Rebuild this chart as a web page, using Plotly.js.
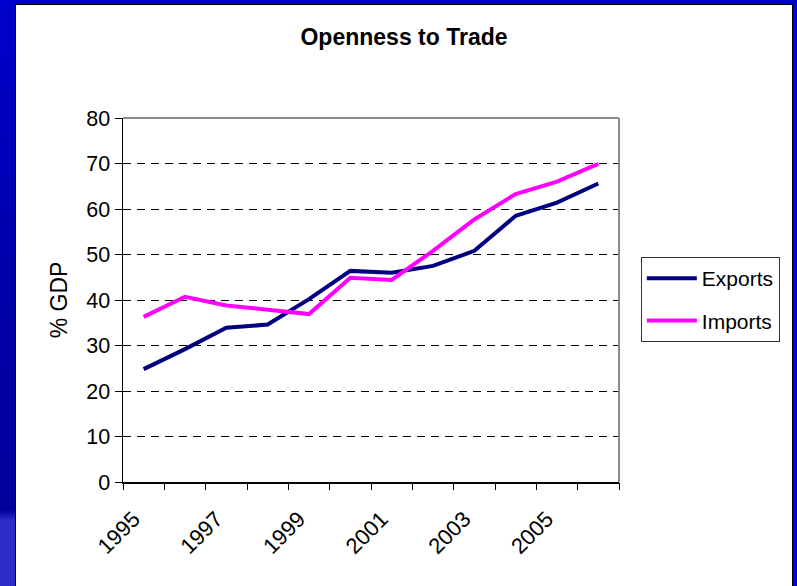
<!DOCTYPE html>
<html>
<head>
<meta charset="utf-8">
<script src="https://cdn.plot.ly/plotly-3.0.1.min.js"></script>
<style>
  html, body { margin: 0; padding: 0; overflow: hidden; width: 797px; height: 586px; }
  body { background: #0000E6; position: relative; }
  #leftband { position: absolute; left: 0; top: 0; width: 16px; height: 586px;
    background: linear-gradient(to bottom, #0000CC 0px, #0000A8 300px, #00009A 510px, #2B2BC8 520px, #2B2BC8 586px); }
  #topband { position: absolute; left: 0; top: 0; width: 797px; height: 5px; background: #0000CC; }
  #chart { position: absolute; left: 15px; top: 4px; width: 776px; height: 600px;
    border: 1px solid #000; background: #fff; }
</style>
</head>
<body>
<div id="leftband"></div>
<div id="topband"></div>
<div id="chart"></div>
<script>
const years = [1995, 1996, 1997, 1998, 1999, 2000, 2001, 2002, 2003, 2004, 2005, 2006];
const exportsPct = [24.8, 29.2, 33.9, 34.6, 40.2, 46.4, 46.0, 47.5, 50.8, 58.5, 61.4, 65.6];
const importsPct = [36.3, 40.7, 38.8, 37.8, 36.9, 44.9, 44.4, 50.8, 57.7, 63.3, 66.0, 69.9];
const labelYears = [1995, 1997, 1999, 2001, 2003, 2005];
const labelText = labelYears.map(String);
const yTicks = [0, 10, 20, 30, 40, 50, 60, 70, 80];

const boundaries = years.map(y => y - 0.5).concat([years[years.length - 1] + 0.5]);
const xRange = [boundaries[0], boundaries[boundaries.length - 1]];
const fontFam = 'Arial, "Liberation Sans", sans-serif';

const traces = [
  { x: years, y: exportsPct, name: 'Exports', type: 'scatter', mode: 'lines', legendgroup: 'g1',
    line: { color: '#000080', width: 4 } },
  { x: years, y: importsPct, name: 'Imports', type: 'scatter', mode: 'lines', legendgroup: 'g2',
    line: { color: '#FF00FF', width: 4 } },
  { x: [boundaries[0]], y: [0], xaxis: 'x2', type: 'scatter', mode: 'markers',
    marker: { opacity: 0 }, showlegend: false, hoverinfo: 'skip' }
];

const layout = {
  width: 776, height: 600,
  margin: { l: 107, r: 171, t: 113, b: 123 },
  paper_bgcolor: '#ffffff', plot_bgcolor: '#ffffff',
  font: { family: fontFam, size: 21.5, color: '#000' },
  title: { text: 'Openness to Trade', font: { family: fontFam, size: 23, weight: 'bold', color: '#000' },
    xref: 'container', x: 0.5, xanchor: 'center', yref: 'container', y: 0.947, yanchor: 'middle' },
  xaxis: {
    range: xRange, tickvals: labelYears, ticktext: labelText, tickangle: -45,
    ticks: '', showgrid: false, zeroline: false, showline: true, linecolor: '#000', linewidth: 1.5,
    tickfont: { family: fontFam, size: 22 }, ticklabelstandoff: 14, ticklabelshift: -10
  },
  xaxis2: {
    overlaying: 'x', anchor: 'y', side: 'bottom', range: xRange, tickvals: boundaries,
    ticks: 'outside', ticklen: 7, tickwidth: 1, tickcolor: '#000', showticklabels: false,
    showgrid: false, zeroline: false, showline: false
  },
  yaxis: {
    range: [0, 80], tickvals: yTicks, ticks: 'outside', ticklen: 7, tickcolor: '#000',
    showgrid: true, gridcolor: '#000', gridwidth: 1, griddash: '8px,6px',
    zeroline: false, showline: true, linecolor: '#000', linewidth: 1.5,
    tickfont: { family: fontFam, size: 21.5 },
    title: { text: '% GDP', font: { family: fontFam, size: 23 }, standoff: 12 }
  },
  shapes: [
    { type: 'line', xref: 'paper', yref: 'paper', x0: 0, x1: 1, y0: 1, y1: 1, layer: 'above',
      line: { color: '#8C8C8C', width: 2 } },
    { type: 'line', xref: 'paper', yref: 'paper', x0: 1, x1: 1, y0: 0, y1: 1, layer: 'above',
      line: { color: '#8C8C8C', width: 2 } }
  ],
  legend: {
    x: 1.044, y: 0.618, xanchor: 'left', yanchor: 'top',
    bordercolor: '#333', borderwidth: 1, bgcolor: '#fff',
    font: { family: fontFam, size: 21 }, tracegroupgap: 12, itemwidth: 50
  },
  showlegend: true
};

Plotly.newPlot('chart', traces, layout, { displayModeBar: false, staticPlot: true });
</script>
</body>
</html>
